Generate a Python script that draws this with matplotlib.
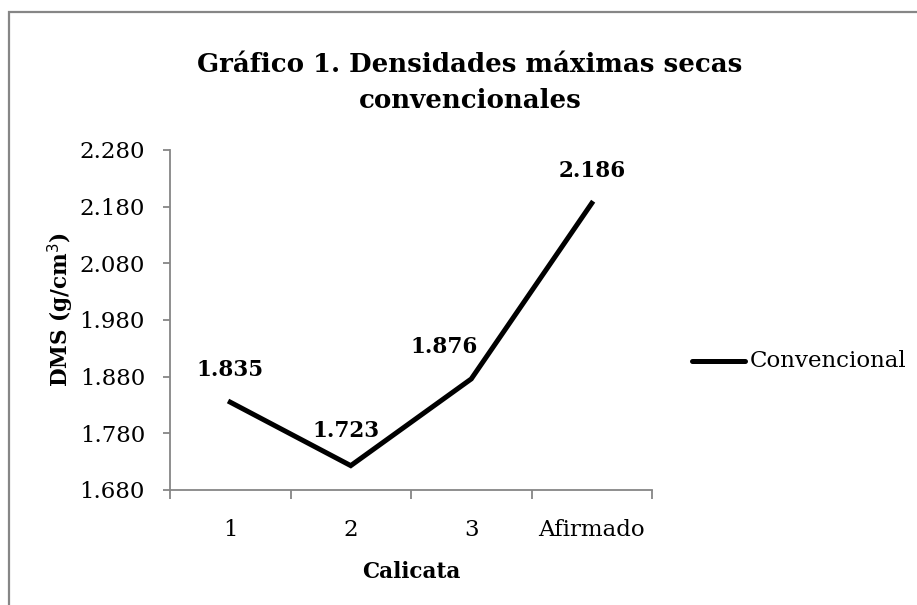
import matplotlib.pyplot as plt
from matplotlib.patches import Rectangle
from matplotlib.lines import Line2D

categories = ["1", "2", "3", "Afirmado"]
dms = [1.835, 1.723, 1.876, 2.186]
y_ticks = [1.68, 1.78, 1.88, 1.98, 2.08, 2.18, 2.28]
label_offsets = [(0, 32), (-5, 35), (-27, 32), (0, 32)]  # px, text offset from point

W, H = 917, 605
gray = "#868686"
plt.rcParams["font.family"] = ["DejaVu Serif"]

fig = plt.figure(figsize=(W / 100, H / 100), dpi=100)

# chart border (cut off on right and bottom like the original)
fig.patches.append(Rectangle((8.5 / W, -0.1), 1.2, 1 - 11.5 / H + 0.1,
                             transform=fig.transFigure, fill=False,
                             edgecolor=gray, linewidth=1.6))

ax = fig.add_axes([170 / W, 1 - 490 / H, 482 / W, 340 / H])
x = list(range(len(categories)))
ax.plot(x, dms, color="black", linewidth=3.6, solid_joinstyle="miter")

for xi, v, (dx, dy) in zip(x, dms, label_offsets):
    ax.annotate(f"{v:.3f}", (xi, v), xytext=(dx * 0.72, dy * 0.72),
                textcoords="offset points", ha="center", va="center",
                fontsize=15.5, fontweight="bold")

ax.set_xlim(-0.5, len(categories) - 0.5)
ax.set_ylim(y_ticks[0], y_ticks[-1])
ax.set_yticks(y_ticks)
ax.set_yticklabels([f"{t:.3f}" for t in y_ticks], fontsize=16.5)
ax.set_xticks(x)
ax.set_xticklabels(categories, fontsize=16.5)
ax.set_xticks([i - 0.5 for i in range(len(categories) + 1)], minor=True)
ax.tick_params(axis="x", which="major", length=0, pad=21)
ax.tick_params(axis="x", which="minor", length=6.5, width=1.3, color=gray, direction="out")
ax.tick_params(axis="y", length=5, width=1.3, color=gray, direction="out", pad=13)

for s in ["top", "right"]:
    ax.spines[s].set_visible(False)
for s in ["left", "bottom"]:
    ax.spines[s].set_color(gray)
    ax.spines[s].set_linewidth(1.3)

fig.text(61 / W, 1 - 310 / H, "DMS (g/cm$^3$)", rotation=90, ha="center", va="center",
         fontsize=15.5, fontweight="bold")
fig.text(411 / W, 1 - 572 / H, "Calicata", ha="center", va="center",
         fontsize=15.5, fontweight="bold")
fig.text(470 / W, 1 - 72 / H, "Gráfico 1. Densidades máximas secas",
         ha="center", va="baseline", fontsize=18.7, fontweight="bold")
fig.text(470 / W, 1 - 108 / H, "convencionales",
         ha="center", va="baseline", fontsize=18.7, fontweight="bold")

# legend
fig.lines.append(Line2D([692 / W, 745 / W], [1 - 361 / H] * 2, transform=fig.transFigure,
                        color="black", linewidth=3.6, solid_capstyle="round"))
fig.text(750 / W, 1 - 361 / H, "Convencional", ha="left", va="center", fontsize=16.5)

fig.savefig("out.png", dpi=100)
